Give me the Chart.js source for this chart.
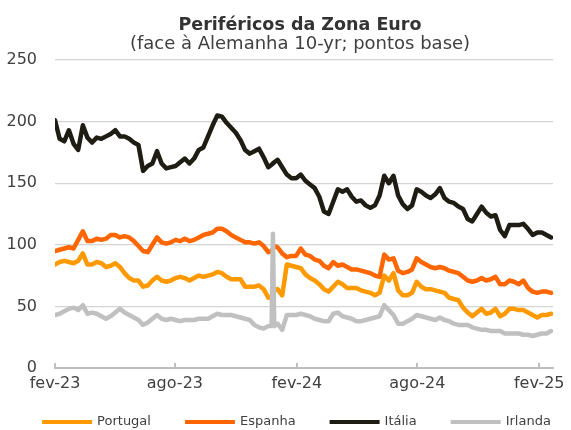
<!DOCTYPE html>
<html><head><meta charset="utf-8">
<script src="https://cdn.jsdelivr.net/npm/chart.js@4"></script>
<style>html,body{margin:0;padding:0;background:#fff}</style>
</head><body>
<canvas id="c" width="571" height="430"></canvas>
<script>
// x positions: days since 1 Feb 2023 (weekly, plus a few extra around the Irish spike)
const days = [0,7,14,21,28,35,42,49,56,63,70,77,84,91,98,105,112,119,126,133,140,147,154,161,168,175,182,189,196,203,210,217,224,231,238,245,252,259,266,273,280,287,294,301,308,315,322,327,329,331,336,343,350,357,364,371,378,385,392,399,406,413,420,427,434,441,448,455,462,469,476,483,490,497,504,511,518,525,532,539,546,553,560,567,574,581,588,595,602,609,616,623,630,637,644,651,658,665,672,679,686,693,700,707,714,721,728,735,742,749];

const tickDays = [0,181,365,547,731];
const tickLabels = ['fev-23','ago-23','fev-24','ago-24','fev-25'];

const portugal = [84,86,87,86,85,87,93,84,84,86,85,82,83,85,82,77,73,71,71,66,67,71,74,71,70,71,73,74,73,71,73,75,74,75,76,78,77,74,72,72,72,66,66,66,67,64,57,
  58,61,63,
  64,59,84,83,82,81,76,73,71,68,64,62,66,70,68,65,65,65,63,62,61,59,61,75,71,77,63,59,59,61,70,66,64,64,63,62,61,57,56,55,49,45,42,45,48,44,45,48,42,44,48,48,47,47,45,43,41,43,43,44];

const espanha = [95,96,97,98,97,104,111,103,103,105,104,105,108,108,106,107,106,103,99,95,94,100,106,102,101,102,104,103,105,103,104,106,108,109,110,113,113,111,108,106,104,102,102,101,102,99,94,
  95,97,99,
  98,93,90,91,91,97,92,91,88,87,83,81,86,83,84,82,80,80,79,78,77,75,74,92,88,89,79,77,78,80,89,86,84,82,81,82,81,79,78,77,74,71,70,71,73,71,72,74,68,68,71,70,68,71,65,62,61,62,62,61];

const italia = [201,186,184,193,182,177,197,187,183,187,186,188,190,193,188,188,186,183,181,160,164,166,176,166,162,163,164,167,170,166,170,177,179,188,197,205,204,199,195,191,185,177,174,176,178,171,163,
  165,166,167,
  169,163,157,154,154,157,152,149,146,139,127,125,135,145,143,145,139,135,136,132,130,132,140,156,150,156,140,133,129,132,145,143,140,138,141,146,138,135,134,131,129,121,119,125,131,126,123,124,112,107,116,116,116,117,113,108,110,110,108,106];

const irlanda = [43,44,46,48,49,47,51,44,45,44,42,40,42,45,48,45,43,41,39,35,37,40,43,40,39,40,39,38,39,39,39,40,40,40,42,44,43,43,43,42,41,40,39,35,33,32,34,
  34,109,34,
  36,31,43,43,43,44,43,42,40,39,38,38,44,45,42,41,40,38,38,39,40,41,42,51,47,43,36,36,38,40,43,42,41,40,39,41,39,38,36,35,35,35,33,32,31,31,30,30,30,28,28,28,28,27,27,26,27,28,28,30];

const seriesNames = ['Portugal','Espanha','Itália','Irlanda'];
const seriesValues = [portugal, espanha, italia, irlanda];
const seriesColors = ['#FF9900','#FF6600','#1F1C14','#C0C0C0'];
const drawOrder = [3,2,1,0];

const FONT = "'DejaVu Sans', Verdana, sans-serif";
const TXT = '#404040';

const datasets = seriesNames.map((name, k) => ({
  label: name,
  data: days.map((d, i) => ({x: d, y: seriesValues[k][i]})),
  borderColor: seriesColors[k],
  backgroundColor: seriesColors[k],
  borderWidth: 4.5,
  pointRadius: 0,
  tension: 0,
  borderJoinStyle: 'round',
  borderCapStyle: 'round',
  order: drawOrder[k]
}));

// small tick marks pointing up from the date axis
const innerTicks = {
  id: 'innerTicks',
  beforeDatasetsDraw(chart) {
    const xs = chart.scales.x, ctx = chart.ctx, a = chart.chartArea;
    ctx.save();
    ctx.strokeStyle = '#BFBFBF';
    ctx.lineWidth = 2;
    tickDays.forEach(v => {
      const px = Math.round(xs.getPixelForValue(v));
      ctx.beginPath(); ctx.moveTo(px, a.bottom); ctx.lineTo(px, a.bottom - 5); ctx.stroke();
    });
    ctx.restore();
  }
};

// centre title + subtitle over x = 300
const titleShift = {
  id: 'titleShift',
  afterLayout(chart) {
    chart.boxes.forEach(bx => {
      if (bx.options && typeof bx.options.text === 'string' && bx.position === 'top') {
        const d = 300 - (bx.left + bx.right) / 2;
        bx.left += d; bx.right += d;
      }
    });
  }
};

// legend drawn below the axis, lines 50px long
const bottomLegend = {
  id: 'bottomLegend',
  afterDraw(chart) {
    const ctx = chart.ctx;
    const ds = chart.data.datasets;
    const lineW = 50, gapTxt = 5, gapItem = 34, y = 422;
    ctx.save();
    ctx.font = '13px ' + FONT;
    const widths = ds.map(d => lineW + gapTxt + ctx.measureText(d.label).width);
    const total = widths.reduce((a, b) => a + b, 0) + gapItem * (ds.length - 1);
    let x = 296.5 - total / 2;
    ds.forEach((d, i) => {
      ctx.fillStyle = d.borderColor;
      ctx.fillRect(x, y - 2, lineW, 4);
      ctx.fillStyle = TXT;
      ctx.textAlign = 'left';
      ctx.textBaseline = 'middle';
      ctx.fillText(d.label, x + lineW + gapTxt, y);
      x += widths[i] + gapItem;
    });
    ctx.restore();
  }
};

new Chart(document.getElementById('c'), {
  type: 'line',
  data: { datasets },
  plugins: [innerTicks, titleShift, bottomLegend],
  options: {
    responsive: false,
    animation: false,
    devicePixelRatio: 1,
    layout: { padding: { left: 0, right: 16, top: 0, bottom: 34 } },
    plugins: {
      title: { display: true, text: 'Periféricos da Zona Euro', color: '#333333',
        font: { family: FONT, size: 17.5, weight: 'bold', lineHeight: 1 },
        padding: { top: 16.5, bottom: 0 } },
      subtitle: { display: true, text: '(face à Alemanha 10-yr; pontos base)', color: TXT,
        font: { family: FONT, size: 18, lineHeight: 0.75 },
        padding: { top: 4, bottom: 8.5 } },
      legend: { display: false },
      tooltip: { enabled: false }
    },
    scales: {
      x: {
        type: 'linear', min: 0, max: 752,
        afterBuildTicks: s => { s.ticks = tickDays.map(v => ({ value: v })); },
        afterFit: s => { s.height = 28; },
        grid: { display: false, drawTicks: false },
        border: { display: true, color: '#BFBFBF', width: 2 },
        ticks: { padding: 6, autoSkip: false, maxRotation: 0, font: { family: FONT, size: 16 }, color: TXT,
          callback: v => { const i = tickDays.indexOf(v); return i >= 0 ? tickLabels[i] : ''; } }
      },
      y: {
        min: 0, max: 250,
        afterFit: s => { s.width = 55; },
        ticks: { stepSize: 50, padding: 18, font: { family: FONT, size: 16 }, color: TXT },
        grid: { color: c => (c.tick && c.tick.value === 0) ? 'rgba(0,0,0,0)' : '#D4D4D4', lineWidth: 1.25, drawTicks: false },
        border: { display: false }
      }
    }
  }
});
</script>
</body></html>
